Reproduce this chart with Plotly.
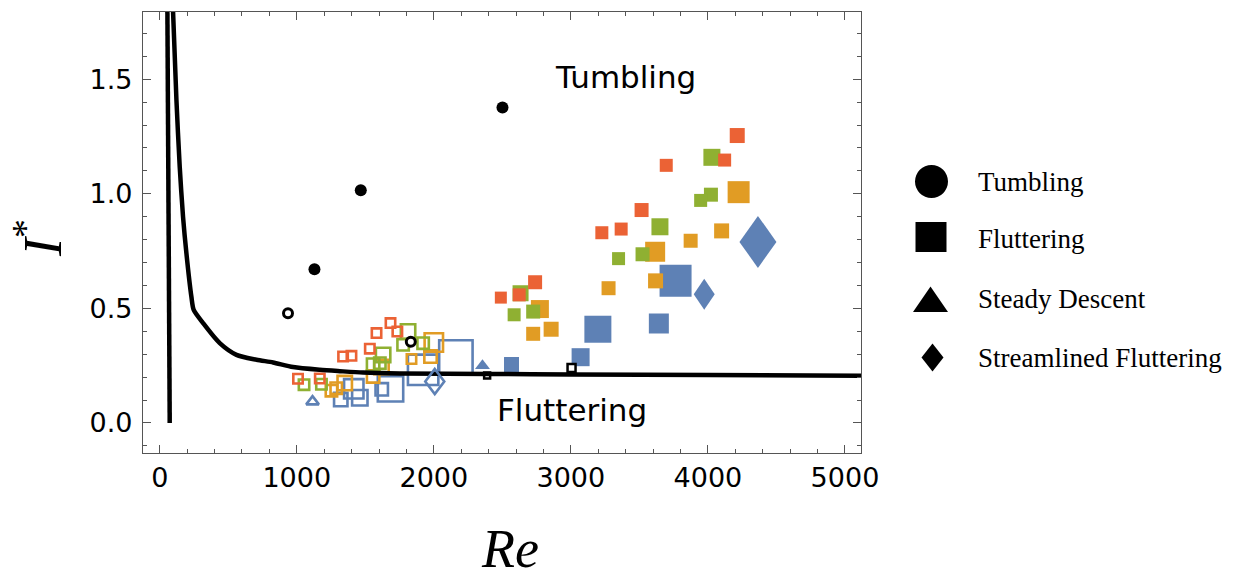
import plotly.graph_objects as go

# ---------------- data ----------------
# regime boundary curves
bound_left_re = [56, 73]
bound_left_i = [1.80, 0.0]
bound_re = [97, 122, 146, 170, 195, 231, 248, 316, 438, 560, 706, 827, 973, 1168, 1314,
            1484, 1752, 2400, 3000, 4000, 5117]
bound_i = [1.80, 1.408, 1.117, 0.900, 0.739, 0.551, 0.493, 0.436, 0.348, 0.297, 0.276,
           0.264, 0.244, 0.232, 0.226, 0.220, 0.216, 0.214, 0.212, 0.209, 0.206]

# tumbling (filled / open circles)
tumb_re = [1129, 1467, 2501]
tumb_i = [0.671, 1.015, 1.376]
tumb_open_re = [936, 1832]
tumb_open_i = [0.479, 0.354]

# fluttering, filled squares
blue_f_re = [3764, 3197, 3642, 3071, 2567]
blue_f_i = [0.620, 0.409, 0.434, 0.287, 0.255]
orange_f_re = [3615, 3618, 3275, 2774, 2856, 2725, 4224, 3874, 4100]
orange_f_i = [0.747, 0.620, 0.588, 0.497, 0.409, 0.389, 1.007, 0.795, 0.838]
green_f_re = [3650, 3348, 3523, 2633, 2725, 2586, 4029, 4022, 3947]
green_f_i = [0.856, 0.717, 0.736, 0.566, 0.486, 0.472, 1.159, 0.996, 0.971]
red_f_re = [3696, 3516, 3226, 3367, 2739, 2623, 2489, 4214, 4122]
red_f_i = [1.124, 0.929, 0.830, 0.846, 0.614, 0.559, 0.547, 1.254, 1.147]
black_open_sq_re = [3005, 2389]
black_open_sq_i = [0.240, 0.207]

# fluttering, open squares
blue_h_re = [2161, 1922, 1684, 1416, 1620, 1321, 1460]
blue_h_i = [0.288, 0.232, 0.149, 0.149, 0.147, 0.102, 0.110]
orange_h_re = [1253, 1350, 2000, 1976, 1837, 1618, 1557, 1288]
orange_h_i = [0.141, 0.174, 0.351, 0.290, 0.279, 0.244, 0.203, 0.152]
green_h_re = [1053, 1180, 1812, 1630, 1776, 1922, 1557, 1606]
green_h_i = [0.167, 0.169, 0.399, 0.297, 0.341, 0.348, 0.254, 0.261]
red_h_re = [1009, 1168, 1338, 1399, 1533, 1582, 1684, 1734]
red_h_i = [0.193, 0.194, 0.290, 0.293, 0.324, 0.392, 0.436, 0.399]

# steady descent (triangles)
tri_re = [2355]
tri_i = [0.250]
tri_open_re = [1115]
tri_open_i = [0.093]

# streamlined fluttering (diamonds)
dia_re = [3973, 4365]
dia_i = [0.562, 0.790]
dia_open_re = [2007]
dia_open_i = [0.181]

legend_labels = ["Tumbling", "Fluttering", "Steady Descent", "Streamlined Fluttering"]
region_labels = ["Tumbling", "Fluttering"]
region_re = [3401, 3007]
region_i = [1.508, 0.058]

x_ticks = [0, 1000, 2000, 3000, 4000, 5000]
y_ticks = [0.0, 0.5, 1.0, 1.5]

# ---------------- styles ----------------
BLUE, ORANGE, GREEN, RED = "#5E81B5", "#E19C24", "#8FB032", "#EB6235"
SANS = "DejaVu Sans"
blue_f_sz = [32, 27, 20, 18, 15]
orange_f_sz = [20, 15, 14, 18, 15, 14, 22, 14, 15]
green_f_sz = [17, 13, 14, 16, 14, 13, 17, 14, 13]
red_f_sz = [13, 14, 13, 13, 14, 13, 12, 15, 13]
blue_h_sz = [36, 33, 28, 22, 15, 16, 18]
orange_h_sz = [14, 17, 21, 15, 12, 17, 15, 14]
green_h_sz = [13, 13, 17, 17, 14, 14, 15, 14]
red_h_sz = [12] * len(red_h_re)
dia_wh = [(21, 31), (37, 52)]
dia_open_wh = [(19, 25)]
LW = 2.6

L, R, T, B = 143, 375, 12, 127
W, H = 1236, 580
PW, PH = W - L - R, H - T - B

fig = go.Figure()


def open_sq(xs, ys, sizes, color):
    fig.add_trace(go.Scatter(x=xs, y=ys, mode="markers", showlegend=False, hoverinfo="skip",
                             marker=dict(symbol="square-open", size=[s - LW for s in sizes],
                                         opacity=1, color=color,
                                         line=dict(color=color, width=LW))))


def fill_sq(xs, ys, sizes, color):
    fig.add_trace(go.Scatter(x=xs, y=ys, mode="markers", showlegend=False, hoverinfo="skip",
                             marker=dict(symbol="square", size=sizes, color=color, opacity=1,
                                         line=dict(width=0))))


# open squares
open_sq(blue_h_re, blue_h_i, blue_h_sz, BLUE)
open_sq(orange_h_re, orange_h_i, orange_h_sz, ORANGE)
open_sq(green_h_re, green_h_i, green_h_sz, GREEN)
open_sq(red_h_re, red_h_i, red_h_sz, RED)

# filled squares
fill_sq(blue_f_re, blue_f_i, blue_f_sz, BLUE)
fill_sq(orange_f_re, orange_f_i, orange_f_sz, ORANGE)
fill_sq(green_f_re, green_f_i, green_f_sz, GREEN)
fill_sq(red_f_re, red_f_i, red_f_sz, RED)

# triangles
fig.add_trace(go.Scatter(x=tri_open_re, y=tri_open_i, mode="markers", showlegend=False,
                         marker=dict(symbol="triangle-up-open", size=11, color=BLUE, opacity=1,
                                     line=dict(color=BLUE, width=LW))))
fig.add_trace(go.Scatter(x=tri_re, y=tri_i, mode="markers", showlegend=False,
                         marker=dict(symbol="triangle-up", size=13, color=BLUE, opacity=1,
                                     line=dict(width=0))))

# black open squares
fig.add_trace(go.Scatter(x=black_open_sq_re, y=black_open_sq_i, mode="markers", showlegend=False,
                         marker=dict(symbol="square", size=[8, 6], color="white", opacity=1,
                                     line=dict(color="black", width=2.5))))

# boundary curves
fig.add_trace(go.Scatter(x=bound_left_re, y=bound_left_i, mode="lines", showlegend=False,
                         hoverinfo="skip", line=dict(color="black", width=4.5)))
fig.add_trace(go.Scatter(x=bound_re, y=bound_i, mode="lines", showlegend=False, hoverinfo="skip",
                         line=dict(color="black", width=4.5, shape="spline", smoothing=0.7)))

# circles
fig.add_trace(go.Scatter(x=tumb_open_re, y=tumb_open_i, mode="markers", showlegend=False,
                         marker=dict(symbol="circle", size=9, color="white", opacity=1,
                                     line=dict(color="black", width=3))))
fig.add_trace(go.Scatter(x=tumb_re, y=tumb_i, mode="markers", showlegend=False,
                         marker=dict(symbol="circle", size=12, color="black", opacity=1,
                                     line=dict(width=0))))

# diamonds (pixel-sized shapes anchored at data values)
shapes = []


def diamond_path(w, h):
    return f"M0,{h/2} L{w/2},0 L0,{-h/2} L{-w/2},0 Z"


for xv, yv, (w, h) in zip(dia_re, dia_i, dia_wh):
    shapes.append(dict(type="path", xref="x", yref="y", xsizemode="pixel", ysizemode="pixel",
                       xanchor=xv, yanchor=yv, path=diamond_path(w, h),
                       fillcolor=BLUE, line=dict(width=0), layer="above"))
for xv, yv, (w, h) in zip(dia_open_re, dia_open_i, dia_open_wh):
    shapes.append(dict(type="path", xref="x", yref="y", xsizemode="pixel", ysizemode="pixel",
                       xanchor=xv, yanchor=yv, path=diamond_path(w, h),
                       fillcolor="rgba(0,0,0,0)", line=dict(color=BLUE, width=LW), layer="above"))


# legend glyphs (paper coords from pixel positions)
def px(xp):
    return (xp - L) / PW


def py(yp):
    return (H - B - yp) / PH


shapes.append(dict(type="circle", xref="paper", yref="paper", x0=px(915), x1=px(948),
                   y0=py(198), y1=py(165), fillcolor="black", line=dict(width=0)))
shapes.append(dict(type="rect", xref="paper", yref="paper", x0=px(915.5), x1=px(946.5),
                   y0=py(252), y1=py(222), fillcolor="black", line=dict(width=0)))
shapes.append(dict(type="path", xref="paper", yref="paper",
                   path=f"M{px(913)},{py(312)} L{px(948)},{py(312)} L{px(930.5)},{py(286.5)} Z",
                   fillcolor="black", line=dict(width=0)))
shapes.append(dict(type="path", xref="paper", yref="paper",
                   path=f"M{px(932.5)},{py(343.5)} L{px(943.5)},{py(357.5)} L{px(932.5)},{py(371.5)} L{px(921.5)},{py(357.5)} Z",
                   fillcolor="black", line=dict(width=0)))

annotations = []
for lab, yc in zip(legend_labels, [181.5, 239, 298.5, 357.5]):
    annotations.append(dict(text=lab, xref="paper", yref="paper", x=px(976), y=py(yc),
                            xanchor="left", yanchor="middle", showarrow=False,
                            font=dict(family="Liberation Serif", size=27, color="black")))

for lab, xv, yv in zip(region_labels, region_re, region_i):
    annotations.append(dict(text=lab, x=xv, y=yv, xref="x", yref="y", showarrow=False,
                            xanchor="center", yanchor="middle",
                            font=dict(family=SANS, size=31, color="black")))

# axis titles
annotations.append(dict(text="<i>Re</i>", xref="paper", yref="paper", x=px(510), y=py(549),
                        xanchor="center", yanchor="middle", showarrow=False,
                        font=dict(family="Liberation Serif", size=54, color="black")))
annotations.append(dict(text="<i>I</i><sup>*</sup>", xref="paper", yref="paper", x=px(38), y=py(238),
                        xanchor="center", yanchor="middle", showarrow=False, textangle=-90,
                        font=dict(family="Liberation Serif", size=54, color="black")))

axis_common = dict(showgrid=False, zeroline=False, showline=True, mirror="allticks",
                   linecolor="#555555", linewidth=1.2, ticks="inside", ticklen=8,
                   tickwidth=1.1, tickcolor="#555555",
                   tickfont=dict(family=SANS, size=27, color="black"))

fig.update_layout(
    width=W, height=H, margin=dict(l=L, r=R, t=T, b=B),
    paper_bgcolor="white", plot_bgcolor="white",
    shapes=shapes, annotations=annotations,
    xaxis=dict(range=[-122, 5117], tickvals=x_ticks, ticktext=[str(v) for v in x_ticks],
               minor=dict(ticks="inside", ticklen=4, dtick=200, tick0=0,
                          tickcolor="#555555", showgrid=False),
               **axis_common),
    yaxis=dict(range=[-0.131, 1.793], tickvals=y_ticks, ticktext=[f"{v:.1f}" for v in y_ticks],
               minor=dict(ticks="inside", ticklen=4, dtick=0.1, tick0=0,
                          tickcolor="#555555", showgrid=False),
               ticklabelstandoff=4,
               **axis_common),
)

fig.write_html("out.html")
